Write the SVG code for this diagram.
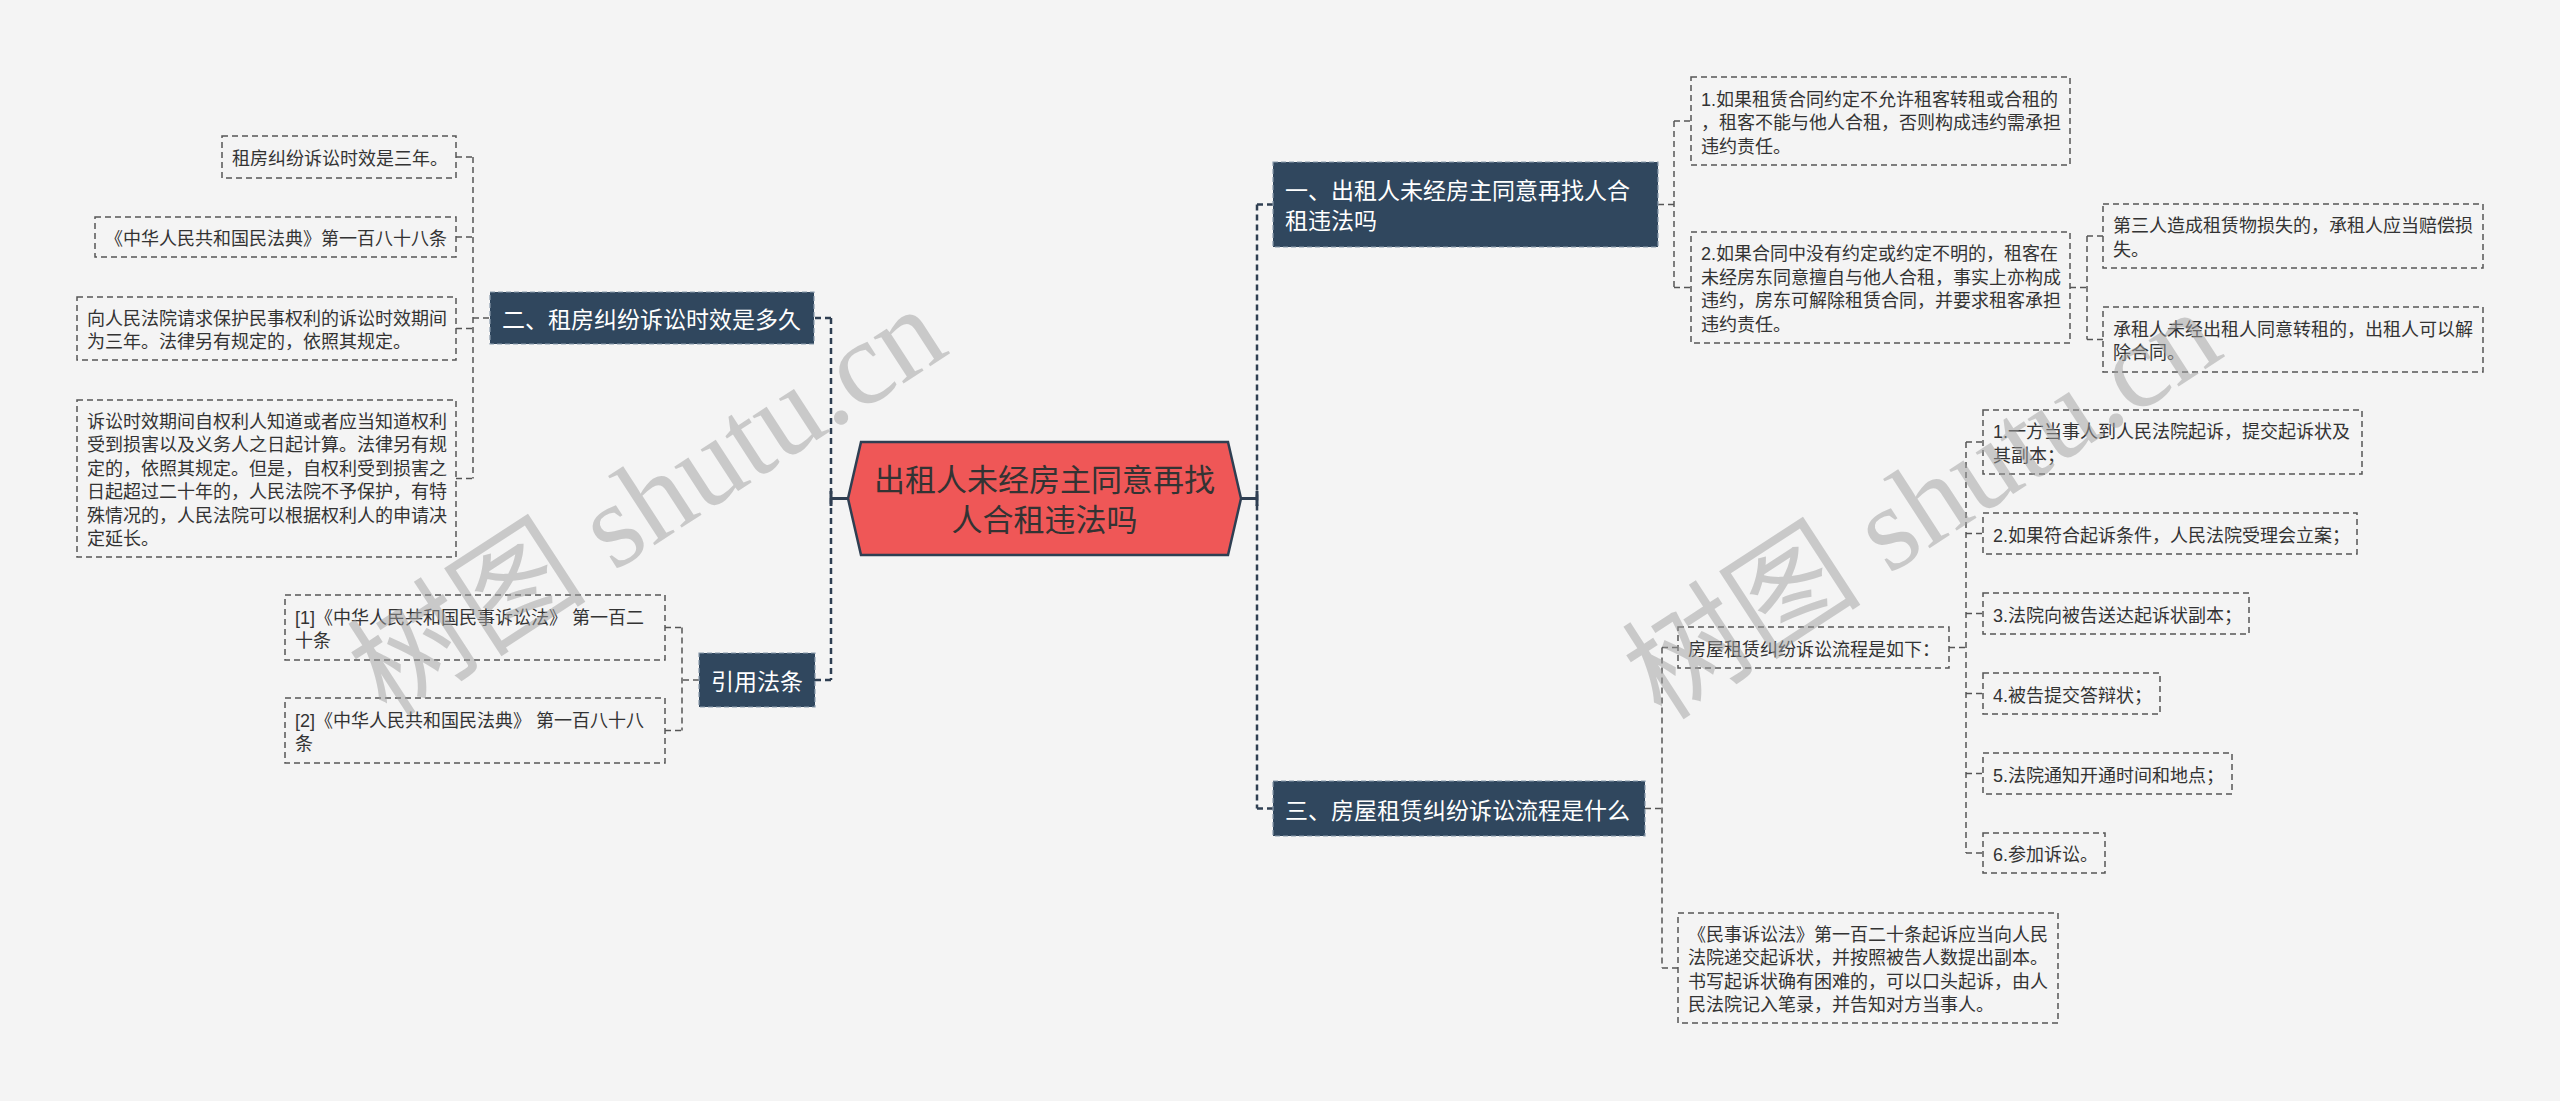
<svg xmlns="http://www.w3.org/2000/svg" width="2560" height="1101" viewBox="0 0 2560 1101">
<style>
text{font-family:"Liberation Sans","Noto Sans CJK SC",sans-serif}
.leaf{fill:none;stroke:#555;stroke-width:1.5;stroke-dasharray:6 4}
.lt{font-size:18px;fill:#333}
.node{fill:#30475e;stroke:#8a9bac;stroke-width:1.2;stroke-dasharray:5 3}
.nt{font-size:23px;fill:#fff}
.c2{fill:none;stroke:#555;stroke-width:1.5;stroke-dasharray:6 4}
.c1{fill:none;stroke:#2f3f52;stroke-width:2.5;stroke-dasharray:6 4}
.cs{fill:none;stroke:#2f3f52;stroke-width:3}
.wm{font-family:"Liberation Serif","Noto Sans CJK SC",serif;font-size:120px;fill:#a0a0a0;opacity:0.5}
</style>
<rect x="0" y="0" width="2560" height="1101" fill="#f4f4f4"/>

<g id="connectors">
<path class="cs" d="M848 498.5H831M831 491V506M1241 498.5H1257M1257 491V506"/>
<path class="c1" d="M831 318V680M815 318H831M815 680H831"/>
<path class="c1" d="M1257 204.5V808.5M1257 204.5H1273M1257 808.5H1273"/>
<path class="c2" d="M489 318H473M473 157V478.5M456 157H473M456 237H473M456 328.5H473M456 478.5H473"/>
<path class="c2" d="M699 680H682M682 627.5V730.5M665 627.5H682M665 730.5H682"/>
<path class="c2" d="M1658 204.5H1674M1674 121V287.5M1674 121H1691M1674 287.5H1691"/>
<path class="c2" d="M2070 287.5H2087M2087 236V339.5M2087 236H2103M2087 339.5H2103"/>
<path class="c2" d="M1645 808.5H1662M1662 647.5V968M1662 647.5H1678M1662 968H1678"/>
<path class="c2" d="M1949 647.5H1966M1966 442V853M1966 442H1983M1966 533.5H1983M1966 613.5H1983M1966 693.5H1983M1966 773.5H1983M1966 853H1983"/>
</g>

<g id="root">
<polygon points="848,498.5 861,442 1228,442 1241,498.5 1228,555 861,555" fill="#ef5757" stroke="#2f3f52" stroke-width="2.5"/>
<text x="1044.5" y="491" font-size="31" fill="#333" text-anchor="middle">出租人未经房主同意再找</text>
<text x="1044.5" y="531" font-size="31" fill="#333" text-anchor="middle">人合租违法吗</text>
</g>

<g id="n2">
<rect class="node" x="490" y="292" width="324" height="52"/>
<text class="nt" x="502" y="328">二、租房纠纷诉讼时效是多久</text>
</g>
<g id="n2a">
<rect class="leaf" x="222" y="136" width="234" height="42"/>
<text class="lt" x="232" y="165">租房纠纷诉讼时效是三年。</text>
</g>
<g id="n2b">
<rect class="leaf" x="95" y="217" width="361" height="40"/>
<text class="lt" x="105" y="245">《中华人民共和国民法典》第一百八十八条</text>
</g>
<g id="n2c">
<rect class="leaf" x="77" y="297" width="379" height="63"/>
<text class="lt" x="87" y="324.75">向人民法院请求保护民事权利的诉讼时效期间</text>
<text class="lt" x="87" y="348.25">为三年。法律另有规定的，依照其规定。</text>
</g>
<g id="n2d">
<rect class="leaf" x="77" y="400" width="379" height="157"/>
<text class="lt" x="87" y="427.75">诉讼时效期间自权利人知道或者应当知道权利</text>
<text class="lt" x="87" y="451.25">受到损害以及义务人之日起计算。法律另有规</text>
<text class="lt" x="87" y="474.75">定的，依照其规定。但是，自权利受到损害之</text>
<text class="lt" x="87" y="498.25">日起超过二十年的，人民法院不予保护，有特</text>
<text class="lt" x="87" y="521.75">殊情况的，人民法院可以根据权利人的申请决</text>
<text class="lt" x="87" y="545.25">定延长。</text>
</g>

<g id="n4">
<rect class="node" x="699" y="653" width="116" height="54"/>
<text class="nt" x="757" y="690" text-anchor="middle">引用法条</text>
</g>
<g id="n4a">
<rect class="leaf" x="285" y="595" width="380" height="65"/>
<text class="lt" x="295" y="623.75">[1]《中华人民共和国民事诉讼法》 第一百二</text>
<text class="lt" x="295" y="647.25">十条</text>
</g>
<g id="n4b">
<rect class="leaf" x="285" y="698" width="380" height="65"/>
<text class="lt" x="295" y="726.75">[2]《中华人民共和国民法典》 第一百八十八</text>
<text class="lt" x="295" y="750.25">条</text>
</g>

<g id="n1">
<rect class="node" x="1273" y="162" width="385" height="85"/>
<text class="nt" x="1285" y="198.5">一、出租人未经房主同意再找人合</text>
<text class="nt" x="1285" y="228.5">租违法吗</text>
</g>
<g id="n1a">
<rect class="leaf" x="1691" y="77" width="379" height="88"/>
<text class="lt" x="1701" y="105.5">1.如果租赁合同约定不允许租客转租或合租的</text>
<text class="lt" x="1701" y="129">，租客不能与他人合租，否则构成违约需承担</text>
<text class="lt" x="1701" y="152.5">违约责任。</text>
</g>
<g id="n1b">
<rect class="leaf" x="1691" y="232" width="379" height="111"/>
<text class="lt" x="1701" y="260.25">2.如果合同中没有约定或约定不明的，租客在</text>
<text class="lt" x="1701" y="283.75">未经房东同意擅自与他人合租，事实上亦构成</text>
<text class="lt" x="1701" y="307.25">违约，房东可解除租赁合同，并要求租客承担</text>
<text class="lt" x="1701" y="330.75">违约责任。</text>
</g>
<g id="n1b1">
<rect class="leaf" x="2103" y="204" width="380" height="64"/>
<text class="lt" x="2113" y="232.25">第三人造成租赁物损失的，承租人应当赔偿损</text>
<text class="lt" x="2113" y="255.75">失。</text>
</g>
<g id="n1b2">
<rect class="leaf" x="2103" y="307" width="380" height="65"/>
<text class="lt" x="2113" y="335.75">承租人未经出租人同意转租的，出租人可以解</text>
<text class="lt" x="2113" y="359.25">除合同。</text>
</g>

<g id="n3">
<rect class="node" x="1273" y="781" width="372" height="55"/>
<text class="nt" x="1285" y="818.5">三、房屋租赁纠纷诉讼流程是什么</text>
</g>
<g id="n3a">
<rect class="leaf" x="1678" y="627" width="271" height="41"/>
<text class="lt" x="1688" y="655.5">房屋租赁纠纷诉讼流程是如下：</text>
</g>
<g id="s1">
<rect class="leaf" x="1983" y="410" width="379" height="64"/>
<text class="lt" x="1993" y="438.25">1.一方当事人到人民法院起诉，提交起诉状及</text>
<text class="lt" x="1993" y="461.75">其副本；</text>
</g>
<g id="s2">
<rect class="leaf" x="1983" y="513" width="374" height="41"/>
<text class="lt" x="1993" y="541.5">2.如果符合起诉条件，人民法院受理会立案；</text>
</g>
<g id="s3">
<rect class="leaf" x="1983" y="593" width="266" height="41"/>
<text class="lt" x="1993" y="621.5">3.法院向被告送达起诉状副本；</text>
</g>
<g id="s4">
<rect class="leaf" x="1983" y="673" width="177" height="41"/>
<text class="lt" x="1993" y="701.5">4.被告提交答辩状；</text>
</g>
<g id="s5">
<rect class="leaf" x="1983" y="753" width="249" height="41"/>
<text class="lt" x="1993" y="781.5">5.法院通知开通时间和地点；</text>
</g>
<g id="s6">
<rect class="leaf" x="1983" y="833" width="122" height="40"/>
<text class="lt" x="1993" y="861">6.参加诉讼。</text>
</g>
<g id="n3b">
<rect class="leaf" x="1678" y="913" width="380" height="110"/>
<text class="lt" x="1688" y="940.75">《民事诉讼法》第一百二十条起诉应当向人民</text>
<text class="lt" x="1688" y="964.25">法院递交起诉状，并按照被告人数提出副本。</text>
<text class="lt" x="1688" y="987.75">书写起诉状确有困难的，可以口头起诉，由人</text>
<text class="lt" x="1688" y="1011.25">民法院记入笔录，并告知对方当事人。</text>
</g>

<g id="watermark">
<text class="wm" transform="translate(387,719) rotate(-33)">树图 shutu.cn</text>
<text class="wm" transform="translate(1662,722) rotate(-33)">树图 shutu.cn</text>
</g>
</svg>
